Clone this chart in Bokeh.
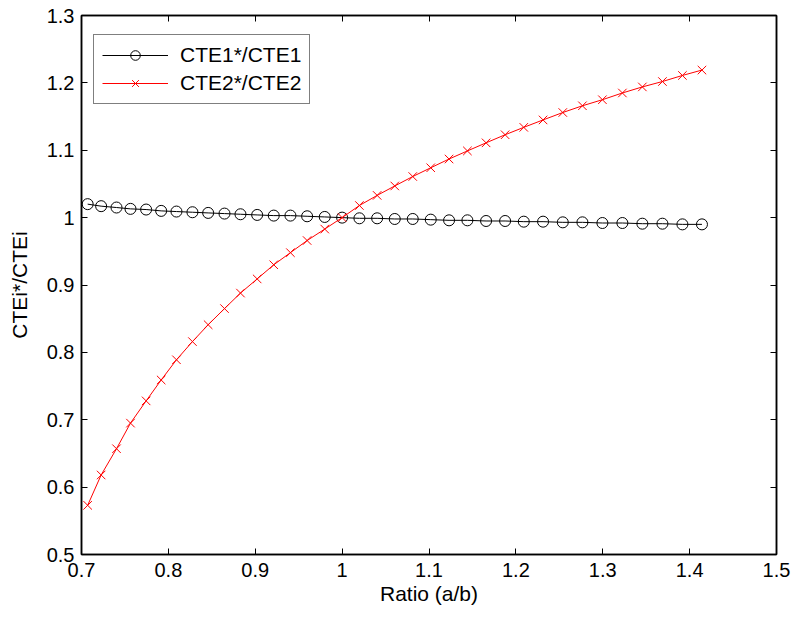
from bokeh.plotting import figure
from bokeh.models import Range1d, LinearAxis, FixedTicker, Legend, LegendItem
from bokeh.embed import file_html
from bokeh.resources import INLINE

ratio = [0.7071, 0.7226, 0.7403, 0.7564, 0.7744, 0.7917, 0.8093, 0.8277, 0.8458,
         0.8646, 0.8830, 0.9022, 0.9213, 0.9405, 0.9597, 0.9800, 1.0000, 1.0199,
         1.0403, 1.0606, 1.0813, 1.1020, 1.1231, 1.1442, 1.1657, 1.1876, 1.2091,
         1.2313, 1.2540, 1.2766, 1.2996, 1.3226, 1.3456, 1.3687, 1.3917, 1.4142]
cte1 = [1.020, 1.017, 1.015, 1.013, 1.012, 1.010, 1.009, 1.008, 1.007, 1.006,
        1.005, 1.004, 1.003, 1.003, 1.002, 1.001, 1.000, 0.999, 0.999, 0.998,
        0.998, 0.997, 0.996, 0.996, 0.995, 0.995, 0.994, 0.994, 0.993, 0.993,
        0.992, 0.992, 0.991, 0.991, 0.990, 0.990]
cte2 = [0.573, 0.618, 0.657, 0.695, 0.728, 0.759, 0.789, 0.816, 0.841, 0.865,
        0.888, 0.909, 0.930, 0.948, 0.966, 0.983, 1.000, 1.018, 1.033, 1.047,
        1.061, 1.074, 1.087, 1.099, 1.111, 1.123, 1.134, 1.145, 1.156, 1.166,
        1.175, 1.185, 1.194, 1.202, 1.211, 1.219]
x_ticks = [0.7, 0.8, 0.9, 1.0, 1.1, 1.2, 1.3, 1.4, 1.5]
y_ticks = [0.5, 0.6, 0.7, 0.8, 0.9, 1.0, 1.1, 1.2, 1.3]
x_tick_labels = {0.7: "0.7", 0.8: "0.8", 0.9: "0.9", 1.0: "1", 1.1: "1.1",
                 1.2: "1.2", 1.3: "1.3", 1.4: "1.4", 1.5: "1.5"}
y_tick_labels = {0.5: "0.5", 0.6: "0.6", 0.7: "0.7", 0.8: "0.8", 0.9: "0.9",
                 1.0: "1", 1.1: "1.1", 1.2: "1.2", 1.3: "1.3"}

FONT = "Liberation Sans"

p = figure(width=795, height=617, output_backend="svg", toolbar_location=None,
           x_range=Range1d(0.7, 1.5), y_range=Range1d(0.5, 1.3),
           min_border_left=81, min_border_right=19, min_border_top=15,
           min_border_bottom=63)
p.background_fill_color = "white"
p.border_fill_color = "white"
p.outline_line_color = "black"
p.outline_line_width = 1.5
p.xgrid.visible = False
p.ygrid.visible = False

l1 = p.line(ratio, cte1, line_color="black", line_width=1)
s1 = p.scatter(ratio, cte1, marker="circle", size=11, fill_color=None,
               line_color="black", line_width=1)
l2 = p.line(ratio, cte2, line_color="#ff0000", line_width=1)
s2 = p.scatter(ratio, cte2, marker="x", size=12, line_color="#ff0000", line_width=1)

for ax, ticks, labels in ((p.xaxis[0], x_ticks, x_tick_labels),
                          (p.yaxis[0], y_ticks, y_tick_labels)):
    ax.ticker = FixedTicker(ticks=ticks)
    ax.major_label_overrides = labels
    ax.major_tick_in = 6
    ax.major_tick_out = 0
    ax.minor_tick_line_color = None
    ax.axis_line_width = 1.5
    ax.major_tick_line_width = 1
    ax.major_label_text_font = FONT
    ax.major_label_text_font_size = "20px"
    ax.major_label_text_color = "black"
    ax.axis_label_text_font = FONT
    ax.axis_label_text_font_size = "21px"
    ax.axis_label_text_font_style = "normal"
    ax.axis_label_text_color = "black"

p.xaxis[0].axis_label = "Ratio (a/b)"
p.yaxis[0].axis_label = "CTEi*/CTEi"
p.xaxis[0].major_label_standoff = 8
p.xaxis[0].axis_label_standoff = 2
p.yaxis[0].major_label_standoff = 7
p.yaxis[0].axis_label_standoff = 13

# mirrored box ticks on the right and top edges (no labels drawn)
right = LinearAxis(ticker=FixedTicker(ticks=y_ticks), major_tick_in=6,
                   major_tick_out=0, minor_tick_line_color=None,
                   major_label_text_font_size="1px",
                   major_label_text_color=None, major_label_standoff=0,
                   axis_line_width=1.5)
top = LinearAxis(ticker=FixedTicker(ticks=x_ticks), major_tick_in=6,
                 major_tick_out=0, minor_tick_line_color=None,
                 major_label_text_font_size="1px",
                 major_label_text_color=None, major_label_standoff=0,
                 axis_line_width=1.5)
p.add_layout(right, "right")
p.add_layout(top, "above")

legend = Legend(items=[LegendItem(label="CTE1*/CTE1", renderers=[l1, s1]),
                       LegendItem(label="CTE2*/CTE2", renderers=[l2, s2])],
                location=(12, 450))
legend.label_text_font = FONT
legend.label_text_font_size = "21px"
legend.label_text_color = "black"
legend.border_line_color = "black"
legend.border_line_width = 1
legend.background_fill_color = "white"
legend.background_fill_alpha = 1
legend.padding = 8
legend.spacing = 4
legend.glyph_width = 66
legend.glyph_height = 24
legend.label_height = 24
legend.label_standoff = 12
legend.margin = 0
p.add_layout(legend, "center")

open("out.html", "w").write(file_html(p, INLINE))
